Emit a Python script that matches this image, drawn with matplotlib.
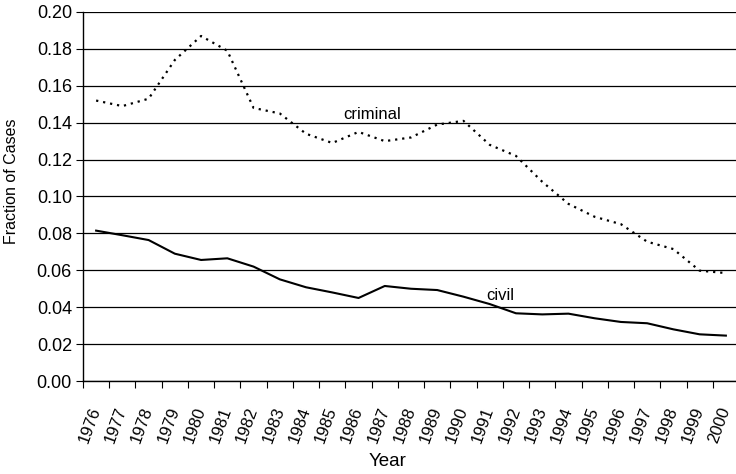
import numpy as np
import matplotlib.pyplot as plt
from matplotlib.ticker import FixedLocator, NullFormatter

plt.rcParams['font.family'] = ['Liberation Sans', 'DejaVu Sans']

years = list(range(1976, 2001))
criminal = [0.152, 0.149, 0.153, 0.174, 0.187, 0.179, 0.148, 0.145, 0.134, 0.129,
            0.135, 0.130, 0.132, 0.139, 0.141, 0.128, 0.122, 0.108, 0.096, 0.089,
            0.085, 0.0755, 0.0715, 0.0598, 0.0585]
civil = [0.0815, 0.079, 0.0764, 0.069, 0.0656, 0.0665, 0.062, 0.0551, 0.0508, 0.048,
         0.045, 0.0515, 0.050, 0.0493, 0.0457, 0.0417, 0.0367, 0.0361, 0.0365, 0.034,
         0.032, 0.0313, 0.028, 0.0253, 0.0246]

fig = plt.figure(figsize=(7.36, 4.74), dpi=100)
ax = fig.add_axes([83 / 736, 93 / 474, 656 / 736, 369 / 474])

x = np.arange(len(years))
ax.plot(x, criminal, color='black', linewidth=1.6, linestyle=(0, (1, 2.2)))
ax.plot(x, civil, color='black', linewidth=1.5)

ax.set_xlim(-0.5, len(years) - 0.5)
ax.set_ylim(0, 0.20)
ax.set_yticks(np.arange(0, 0.201, 0.02))
ax.set_yticklabels([f"{v:.2f}" for v in np.arange(0, 0.201, 0.02)], fontsize=13)
ax.yaxis.grid(True, color='black', linewidth=0.9)

# category axis: tick marks between years, labels at centres
ax.xaxis.set_major_locator(FixedLocator(np.arange(-0.5, len(years), 1.0)))
ax.xaxis.set_major_formatter(NullFormatter())
ax.xaxis.set_minor_locator(FixedLocator(x))
ax.set_xticklabels([str(y) for y in years], minor=True, rotation=70,
                   fontsize=12, ha='right', va='center', rotation_mode='anchor')
ax.tick_params(axis='x', which='major', length=5, direction='out', color='black')
ax.tick_params(axis='x', which='minor', length=0, pad=19)
ax.tick_params(axis='y', length=5, direction='out', pad=3)

for s in ['top', 'right']:
    ax.spines[s].set_visible(False)
ax.spines['left'].set_linewidth(1.0)
ax.spines['bottom'].set_linewidth(1.0)

ax.text(10.5, 0.1445, "criminal", fontsize=12, ha='center', va='center')
ax.text(15.4, 0.0465, "civil", fontsize=12, ha='center', va='center')

ax.set_ylabel("Fraction of Cases", fontsize=11.5)
ax.yaxis.set_label_coords(-0.097, 0.54)
fig.text(388 / 736, 1 - 462 / 474, "Year", fontsize=13.5, ha='center', va='center')

fig.savefig("out.png", dpi=100)
